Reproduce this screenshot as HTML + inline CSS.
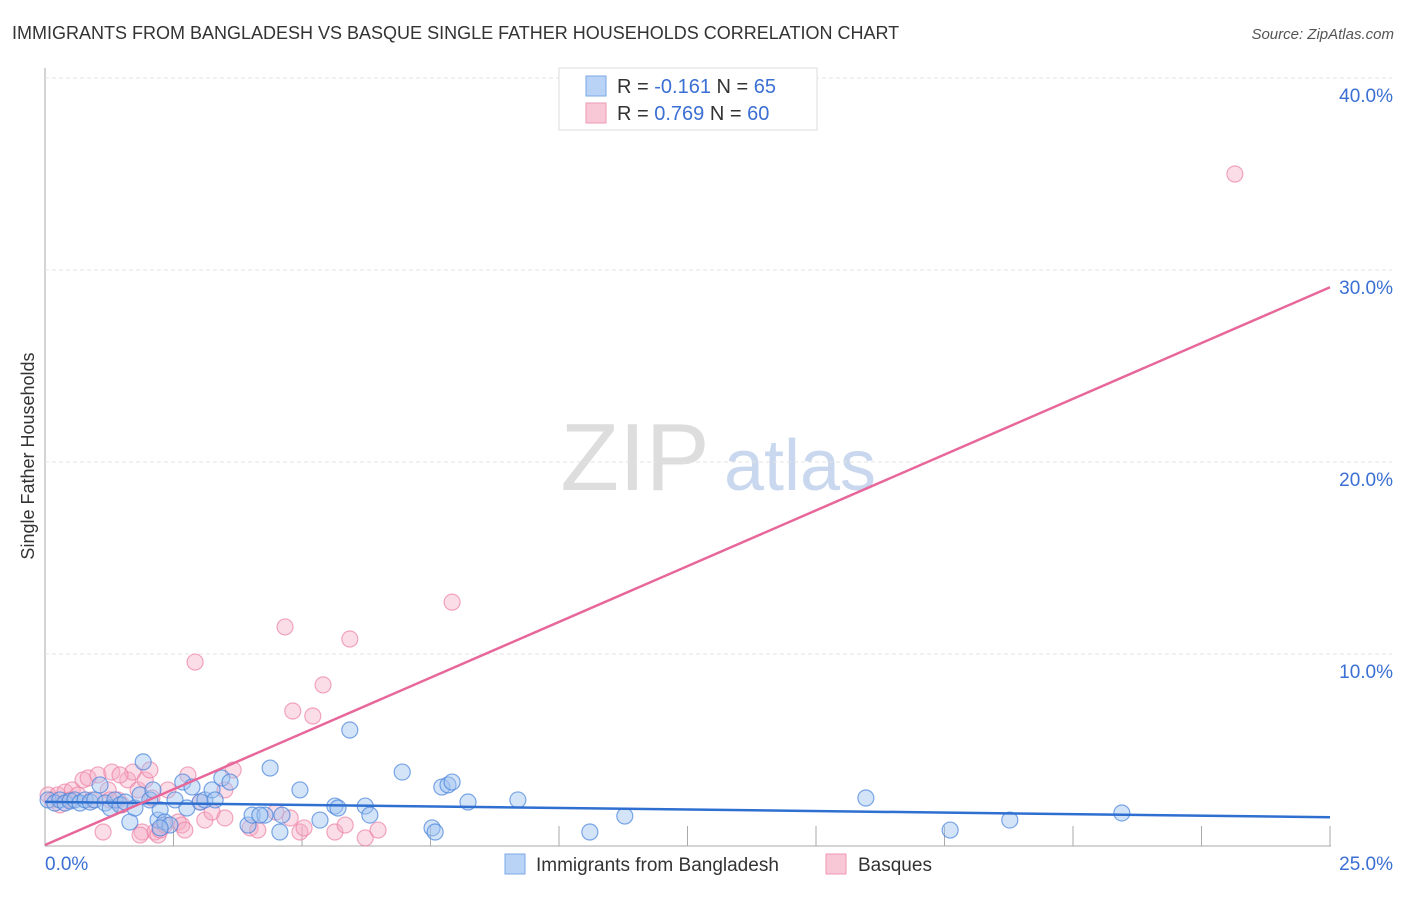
<!DOCTYPE html>
<html><head><meta charset="utf-8">
<style>
body{margin:0;background:#fff;font-family:"Liberation Sans",sans-serif;}
svg text{font-family:"Liberation Sans",sans-serif;}
</style></head>
<body>
<svg id="c" width="1406" height="892">
<text x="12" y="39" font-size="18" fill="#333">IMMIGRANTS FROM BANGLADESH VS BASQUE SINGLE FATHER HOUSEHOLDS CORRELATION CHART</text>
<text x="1394" y="39" font-size="15" fill="#555" text-anchor="end" font-style="italic">Source: ZipAtlas.com</text>
<text x="34" y="456" font-size="18" fill="#333" text-anchor="middle" transform="rotate(-90 34 456)">Single Father Households</text>
<g><text x="635" y="490" font-size="96" fill="#ddd" text-anchor="middle" font-family="Liberation Serif">ZIP</text><text x="800" y="490" font-size="72" fill="#c9d8ee" text-anchor="middle">atlas</text></g>
<g id="grid"></g><g id="pts"></g><g id="lines"></g>
<g>
<rect x="559" y="68" width="258" height="62" fill="#fff" stroke="#ddd"/>
<rect x="586" y="76" width="20" height="20" fill="#b8d3f5" stroke="#7aa8e6"/>
<text x="617" y="93" font-size="20" fill="#333">R = <tspan fill="#3b6fd4">-0.161</tspan>   N = <tspan fill="#3b6fd4">65</tspan></text>
<rect x="586" y="103" width="20" height="20" fill="#f9c8d6" stroke="#ee9ab4"/>
<text x="617" y="120" font-size="20" fill="#333">R = <tspan fill="#3b6fd4"> 0.769</tspan>   N = <tspan fill="#3b6fd4">60</tspan></text>
</g>
<g>
<rect x="505" y="854" width="20" height="20" fill="#b8d3f5" stroke="#7aa8e6"/>
<text x="536" y="871" font-size="19" fill="#333">Immigrants from Bangladesh</text>
<rect x="826" y="854" width="20" height="20" fill="#f9c8d6" stroke="#ee9ab4"/>
<text x="858" y="871" font-size="19" fill="#333">Basques</text>
</g>
</svg>
<script>
const yTicks=[10,20,30,40];
const yTickLabels=["10.0%","20.0%","30.0%","40.0%"];
const xTicks=[2.5,5,7.5,10,12.5,15,17.5,20,22.5,25];
const blueX=[0.06,0.19,0.29,0.39,0.49,0.58,0.68,0.78,0.88,0.97,1.07,1.17,1.27,1.36,1.46,1.56,1.65,1.75,1.85,1.91,2.04,2.1,2.2,2.24,2.33,2.43,2.53,2.68,2.76,2.86,3.02,3.11,3.25,3.31,3.44,3.6,3.95,4.03,4.28,4.38,4.57,4.61,4.96,5.35,5.64,5.7,6.23,6.32,6.95,7.53,7.59,7.72,7.84,7.92,8.23,9.2,10.6,11.28,15.97,17.61,18.77,20.95,5.93,4.18,2.24];
const blueY=[2.4,2.24,2.4,2.24,2.34,2.4,2.24,2.4,2.29,2.4,3.18,2.24,1.98,2.4,2.14,2.29,1.25,1.98,2.66,4.38,2.4,2.92,1.35,1.88,1.25,1.09,2.4,3.33,1.98,3.07,2.29,2.4,2.92,2.4,3.54,3.33,1.09,1.61,1.61,4.06,0.73,1.61,2.92,1.35,2.08,1.98,2.08,1.61,3.85,0.94,0.73,3.07,3.18,3.33,2.29,2.4,0.73,1.56,2.5,0.83,1.35,1.72,6.04,1.61,0.94];
const pinkX=[0.06,0.14,0.25,0.39,0.53,0.64,0.74,0.84,0.91,1.03,1.13,1.23,1.3,1.42,1.5,1.61,1.71,1.81,1.89,1.95,2.04,2.08,2.14,2.2,2.24,2.33,2.39,2.59,2.66,2.78,2.92,3.02,3.11,3.25,3.5,3.66,3.99,4.14,4.49,4.67,4.77,4.82,4.96,5.04,5.21,5.41,5.64,5.84,5.93,6.23,6.48,7.92,23.15,1.46,0.49,1.26,0.29,2.72,1.85,3.5];
const pinkY=[2.66,2.4,2.66,2.81,2.92,2.66,3.44,3.54,2.4,3.7,0.73,2.92,3.85,2.4,2.14,3.44,3.85,2.92,0.73,3.44,3.96,2.5,0.73,0.57,0.83,1.09,2.92,1.25,1.09,3.7,9.58,2.29,1.35,1.77,1.46,3.96,0.94,0.83,1.77,11.41,1.46,7.03,0.73,0.94,6.77,8.39,0.73,1.09,10.78,0.42,0.83,12.7,35.0,3.7,2.4,2.4,2.14,0.83,0.57,2.92];
const blueLine=[[0,2.3],[25,1.5]];
const pinkLine=[[0,0.05],[25,29.1]];
const X=v=>45+v*51.4, Y=v=>846-v*19.2;
const ns="http://www.w3.org/2000/svg";
function mk(t,a,p){const e=document.createElementNS(ns,t);for(const k in a)e.setAttribute(k,a[k]);p.appendChild(e);return e;}
const grid=document.getElementById('grid');
mk('line',{x1:45,y1:68,x2:45,y2:846,stroke:'#aaa'},grid);
mk('line',{x1:45,y1:846,x2:1331,y2:846,stroke:'#aaa'},grid);
yTicks.forEach((t,i)=>{
 const l=mk('line',{x1:45,y1:Y(t),x2:1392,y2:Y(t),stroke:'#e3e3e3','stroke-dasharray':'4,3'},grid);
 
 
 const tx=mk('text',{x:1393,y:Y(t)+24,'font-size':19,fill:'#3b6fd4','text-anchor':'end'},grid);
 tx.textContent=yTickLabels[i];
 
 
});
xTicks.forEach(t=>{const l=mk('line',{x1:X(t),y1:826,x2:X(t),y2:846,stroke:'#aaa'},grid);
 
 });
let a=mk('text',{x:45,y:870,'font-size':19,fill:'#3b6fd4'},grid);a.textContent='0.0%';


a=mk('text',{x:1393,y:870,'font-size':19,fill:'#3b6fd4','text-anchor':'end'},grid);a.textContent='25.0%';


const pts=document.getElementById('pts');
pinkX.forEach((x,i)=>{const c=mk('circle',{cx:X(x),cy:Y(pinkY[i]),r:8,fill:'rgba(246,170,195,0.4)',stroke:'rgba(236,130,165,0.7)','stroke-width':1.2},pts);
 
 });
blueX.forEach((x,i)=>{const c=mk('circle',{cx:X(x),cy:Y(blueY[i]),r:8,fill:'rgba(160,195,240,0.45)',stroke:'rgba(70,130,220,0.7)','stroke-width':1.2},pts);
 
 });
const lines=document.getElementById('lines');
let b=mk('line',{x1:X(blueLine[0][0]),y1:Y(blueLine[0][1]),x2:X(blueLine[1][0]),y2:Y(blueLine[1][1]),stroke:'#2f6fd0','stroke-width':2.5},lines);


b=mk('line',{x1:X(pinkLine[0][0]),y1:Y(pinkLine[0][1]),x2:X(pinkLine[1][0]),y2:Y(pinkLine[1][1]),stroke:'#e8679a','stroke-width':2.5},lines);


</script>
</body></html>
